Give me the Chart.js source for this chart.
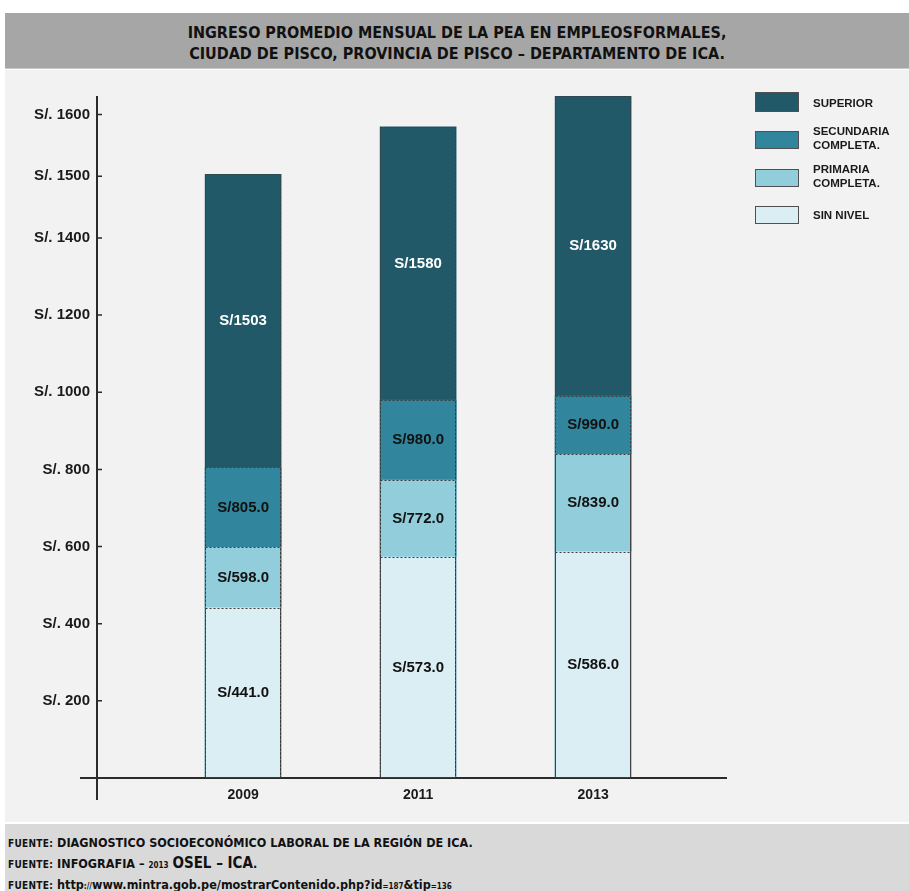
<!DOCTYPE html>
<html lang="es">
<head>
<meta charset="UTF-8">
<title>Ingreso promedio mensual - Pisco</title>
<script src="https://cdn.jsdelivr.net/npm/chart.js"></script>
<style>
  body { margin: 0; background: #fff; width: 909px; height: 891px; position: relative; overflow: hidden; }
  .header {
    position: absolute; left: 5px; top: 13px; width: 904px; height: 56px;
    background: #a6a6a6; border-bottom: 1px solid #c8c8c8;
    font-family: "DejaVu Sans Condensed", "DejaVu Sans", sans-serif; font-weight: bold;
    font-size: 16px; color: #111; text-align: center; line-height: 21px;
    padding-top: 9px; box-sizing: border-box;
  }
  .panel { position: absolute; left: 5px; top: 70px; width: 904px; height: 752px; background: #f2f2f2; }
  canvas { position: absolute; left: 0; top: 0; }
  .footer {
    position: absolute; left: 5px; top: 824px; width: 904px; height: 67px;
    background: #d9d9d9; padding: 9px 0 0 3px; box-sizing: border-box;
    font-family: "DejaVu Sans Condensed", "DejaVu Sans", sans-serif; font-weight: bold;
    font-size: 12.5px; color: #111; line-height: 19.5px;
  }
  .footer .tag { font-size: 10px; letter-spacing: 0.3px; }
  .footer .sm { font-size: 8px; }
  .footer .big { font-size: 15px; }
  .legend { position: absolute; left: 0; top: 0; font-family: "Liberation Sans", Arial, sans-serif; font-weight: bold; font-size: 11.5px; color: #1a1a1a; }
  .legend .box { position: absolute; width: 44px; height: 18px; border: 1px solid #505050; box-sizing: border-box; }
  .legend .txt { position: absolute; line-height: 14px; white-space: nowrap; }
</style>
</head>
<body>
<div class="header">INGRESO PROMEDIO MENSUAL DE LA PEA EN EMPLEOSFORMALES,<br>CIUDAD DE PISCO, PROVINCIA DE PISCO – DEPARTAMENTO DE ICA.</div>
<div class="panel"><canvas id="ingresoChart" width="904" height="752"></canvas></div>
<div class="legend" id="legend"></div>
<div class="footer">
  <div><span class="tag">FUENTE:</span> DIAGNOSTICO SOCIOECONÓMICO LABORAL DE LA REGIÓN DE ICA.</div>
  <div><span class="tag">FUENTE:</span> INFOGRAFIA – <span class="sm">2013</span> <span class="big">OSEL – ICA</span>.</div>
  <div><span class="tag">FUENTE:</span> http<span class="sm">://</span>www.mintra.gob.pe/mostrarContenido.php?id<span class="sm">=187</span>&amp;tip<span class="sm">=136</span></div>
</div>

<script>
  // Años y montos (S/.) por nivel educativo
  const years = [2009, 2011, 2013];
  const superior = [1503, 1580, 1630];
  const secundaria = [805, 980, 990];
  const primaria = [598, 772, 839];
  const sinNivel = [441, 573, 586];
  const yTicks = [200, 400, 600, 800, 1000, 1200, 1400, 1500, 1600];

  const seriesNames = [['SUPERIOR'], ['SECUNDARIA', 'COMPLETA.'], ['PRIMARIA', 'COMPLETA.'], ['SIN NIVEL']];
  const seriesColors = ['#215968', '#31859c', '#92cddc', '#daeef3'];
  const labelColors = ['#ffffff', '#111111', '#111111', '#111111'];

  // eje Y estirado por encima de 1400
  const BREAK = 1400, STRETCH = 1.6;
  const warp = v => v <= BREAK ? v : BREAK + STRETCH * (v - BREAK);

  class WarpScale extends Chart.LinearScale {
    static id = 'warp';
    static defaults = Chart.LinearScale.defaults;
    getPixelForValue(value) {
      if (value === null) return NaN;
      const a = warp(this.min), b = warp(this.max);
      return this.getPixelForDecimal((warp(value) - a) / (b - a));
    }
    getValueForPixel(pixel) {
      const a = warp(this.min), b = warp(this.max);
      const t = a + this.getDecimalForPixel(pixel) * (b - a);
      return t <= BREAK ? t : BREAK + (t - BREAK) / STRETCH;
    }
  }
  Chart.register(WarpScale);

  // ejes dibujados a mano: se cruzan y sobresalen un poco
  const axesPlugin = {
    id: 'axesLines',
    afterDatasetsDraw(chart) {
      const { ctx, chartArea: ca, scales } = chart;
      ctx.save();
      ctx.strokeStyle = '#2b2b2b';
      ctx.lineWidth = 2;
      ctx.beginPath();
      ctx.moveTo(ca.left, ca.top);
      ctx.lineTo(ca.left, ca.bottom + 22);
      ctx.moveTo(ca.left - 17, ca.bottom);
      ctx.lineTo(ca.right, ca.bottom);
      ctx.stroke();
      ctx.lineWidth = 1.5;
      ctx.beginPath();
      yTicks.forEach(v => {
        const y = scales.y.getPixelForValue(v);
        ctx.moveTo(ca.left, y);
        ctx.lineTo(ca.left + 5, y);
      });
      ctx.stroke();
      ctx.restore();
    }
  };

  // contorno punteado y montos dentro de cada tramo
  const segmentPlugin = {
    id: 'segments',
    afterDatasetsDraw(chart) {
      const { ctx } = chart;
      const metas = chart.data.datasets.map((d, i) => chart.getDatasetMeta(i));
      ctx.save();
      ctx.setLineDash([2, 2]);
      ctx.strokeStyle = '#3c3c3c';
      ctx.lineWidth = 1;
      metas.forEach(meta => meta.data.forEach(el => {
        const x0 = Math.round(el.x - el.width / 2) + 0.5;
        const x1 = Math.round(el.x + el.width / 2) - 0.5;
        const y0 = Math.round(el.y) + 0.5;
        const y1 = Math.round(el.base) - 0.5;
        ctx.strokeRect(x0, y0, x1 - x0, y1 - y0);
      }));
      ctx.setLineDash([]);
      ctx.font = 'bold 15px "Liberation Sans", Arial, sans-serif';
      ctx.textAlign = 'center';
      ctx.textBaseline = 'middle';
      years.forEach((yr, i) => {
        metas.forEach((meta, di) => {
          const el = meta.data[i];
          const below = metas[di + 1] ? metas[di + 1].data[i].y : el.base;
          const v = chart.data.datasets[di].data[i];
          const txt = di === 0 ? 'S/' + v : 'S/' + v.toFixed(1);
          ctx.fillStyle = labelColors[di];
          ctx.fillText(txt, el.x, (el.y + below) / 2);
        });
      });
      ctx.restore();
    }
  };

  const values = [superior, secundaria, primaria, sinNivel];
  const tickFont = { family: '"Liberation Sans", Arial, sans-serif', weight: 'bold', size: 15 };

  new Chart(document.getElementById('ingresoChart'), {
    type: 'bar',
    data: {
      labels: years,
      datasets: values.map((data, i) => ({
        label: seriesNames[i].join(' '),
        data: data,
        backgroundColor: seriesColors[i],
        borderWidth: 0,
        grouped: false,
        barThickness: 76,
        order: 4 - i
      }))
    },
    options: {
      responsive: false,
      animation: false,
      layout: { padding: { top: 26, right: 182, left: 0, bottom: 0 } },
      plugins: { legend: { display: false }, tooltip: { enabled: false } },
      scales: {
        x: {
          type: 'linear',
          offset: false,
          bounds: 'data',
          min: 2007.33,
          max: 2014.53,
          grid: { display: false, drawTicks: false, offset: false },
          border: { display: false },
          afterBuildTicks: s => { s.ticks = years.map(value => ({ value })); },
          afterFit: s => { s.height = 44; },
          ticks: { callback: v => String(v), color: '#1a1a1a', padding: 9, font: { ...tickFont, size: 14 } }
        },
        y: {
          type: 'warp',
          min: 0,
          max: 1630,
          grid: { display: false, drawTicks: false },
          border: { display: false },
          afterBuildTicks: s => { s.ticks = yTicks.map(value => ({ value })); },
          afterFit: s => { s.width = 92; },
          ticks: { autoSkip: false, callback: v => 'S/. ' + v, color: '#1a1a1a', padding: 7, font: tickFont }
        }
      }
    },
    plugins: [axesPlugin, segmentPlugin]
  });

  // leyenda a la derecha
  const legendTops = [92, 131, 169, 206];
  const legend = document.getElementById('legend');
  seriesNames.forEach((name, i) => {
    const box = document.createElement('div');
    box.className = 'box';
    box.style.left = '755px';
    box.style.top = legendTops[i] + 'px';
    box.style.height = (i === 0 ? 20 : 18) + 'px';
    box.style.background = seriesColors[i];
    legend.appendChild(box);
    const txt = document.createElement('div');
    txt.className = 'txt';
    txt.style.left = '813px';
    const mid = legendTops[i] + (i === 0 ? 11 : 9) + (name.length > 1 ? -2 : 0);
    txt.style.top = (mid - 7 * name.length) + 'px';
    txt.innerHTML = name.join('<br>');
    legend.appendChild(txt);
  });
</script>
</body>
</html>
